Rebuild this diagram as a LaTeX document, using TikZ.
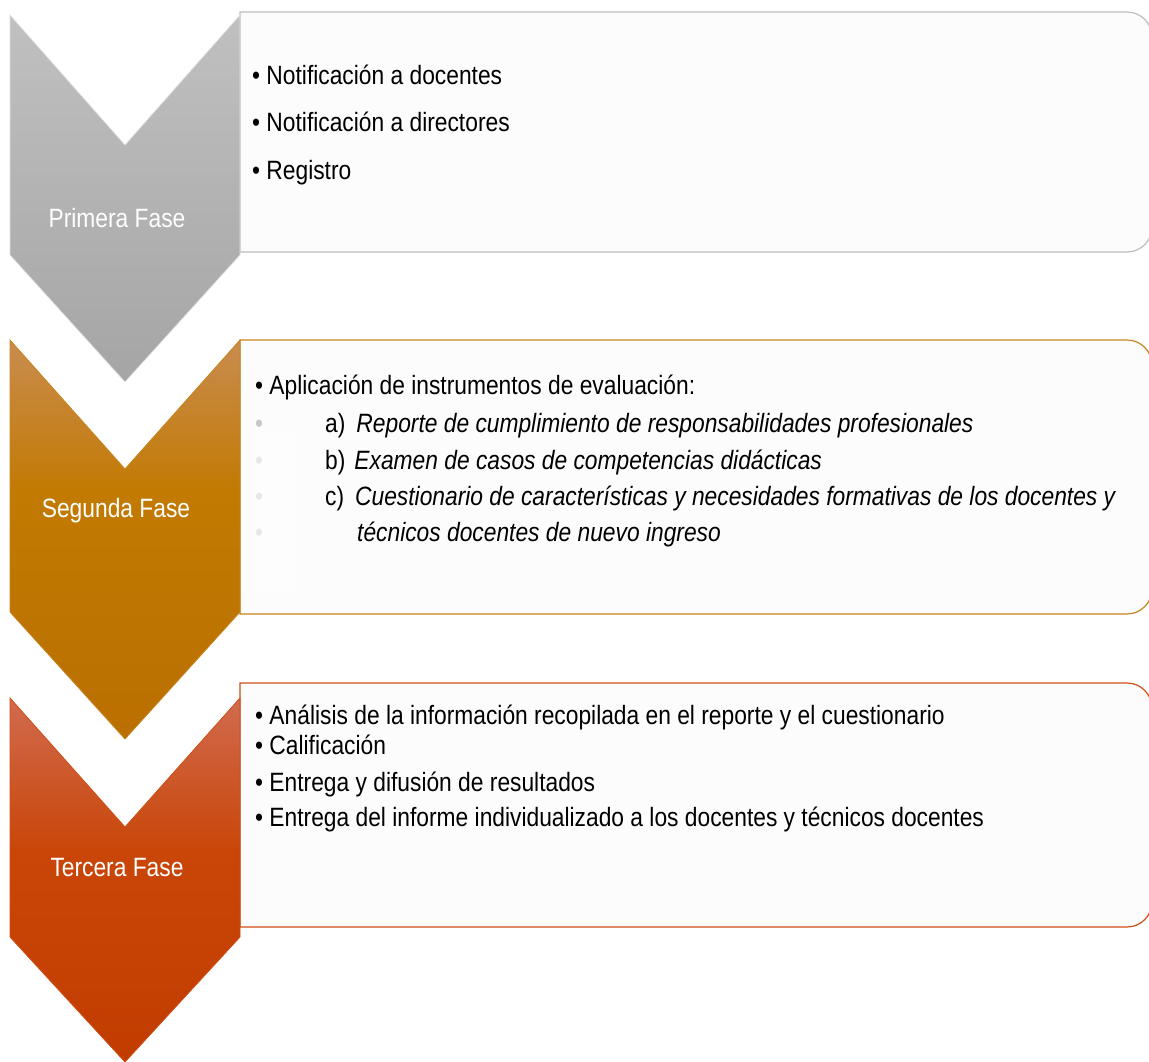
\documentclass[tikz,border=0pt]{standalone}
\usepackage{fontspec}
\setmainfont{Liberation Sans}[FakeStretch=0.86]
\usepackage{tikz}
\usetikzlibrary{positioning}

\definecolor{grisA}{HTML}{C0C0C0}
\definecolor{grisM}{HTML}{B2B2B2}
\definecolor{grisB}{HTML}{A5A5A5}
\definecolor{grisL}{HTML}{BDBDBD}
\definecolor{oroA}{HTML}{C98C50}
\definecolor{oroM}{HTML}{C27A02}
\definecolor{oroB}{HTML}{BA6F00}
\definecolor{oroL}{HTML}{C7841E}
\definecolor{rojoA}{HTML}{D16B4F}
\definecolor{rojoM}{HTML}{C94608}
\definecolor{rojoB}{HTML}{C23C00}
\definecolor{rojoL}{HTML}{CF4E14}
\definecolor{fondo}{HTML}{FCFCFC}

\pgfdeclareverticalshading{sombraoro}{100bp}{color(0bp)=(oroB); color(25bp)=(oroB); color(56bp)=(oroM); color(75bp)=(oroA); color(100bp)=(oroA)}
\pgfdeclareverticalshading{sombrarojo}{100bp}{color(0bp)=(rojoB); color(25bp)=(rojoB); color(54bp)=(rojoM); color(75bp)=(rojoA); color(100bp)=(rojoA)}

\tikzset{
  fasebox/.style={fill=fondo, line width=1.2pt},
  flecha/.style={line width=0.8pt},
  etiqueta/.style={anchor=base, inner sep=0pt, text=white, font=\fontsize{26.5}{30}\selectfont},
  item/.style={anchor=base west, inner sep=0pt, font=\fontsize{26.5}{30}\selectfont},
  tenue/.style={item, text=black!22},
}

\begin{document}
\begin{tikzpicture}
          [x=1pt, y=-1pt]
          \useasboundingbox (0,0) rectangle (1149,1061);

          % cajas
          \draw[fasebox, draw=grisL] (240,252) -- (240,12) -- (1127,12) arc[start angle=90, end angle=0, radius=25pt] -- (1152,227) arc[start angle=0, end angle=-90, radius=25pt] -- cycle;
          \draw[fasebox, draw=oroL] (240,614) -- (240,340) -- (1127,340) arc[start angle=90, end angle=0, radius=25pt] -- (1152,589) arc[start angle=0, end angle=-90, radius=25pt] -- cycle;
          \draw[fasebox, draw=rojoL] (240,927) -- (240,683) -- (1127,683) arc[start angle=90, end angle=0, radius=25pt] -- (1152,902) arc[start angle=0, end angle=-90, radius=25pt] -- cycle;

          % flechas
          \shade[flecha, draw=white!55!grisL, top color=grisA, middle color=grisM, bottom color=grisB] (10,15) -- (125,145) -- (240,15) -- (240,255) -- (125,382) -- (10,255) -- cycle;
          \shade[flecha, draw=oroL, shading=sombraoro] (10,340) -- (125,469) -- (240,340) -- (240,612) -- (125,739) -- (10,612) -- cycle;
          \shade[flecha, draw=rojoL, shading=sombrarojo] (10,698) -- (125,827) -- (240,698) -- (240,937) -- (125,1062) -- (10,937) -- cycle;

          \node[etiqueta] (f1) at (117,227) {Primera Fase};
          \node[etiqueta] (f2) at (116,517) {Segunda Fase};
          \node[etiqueta] (f3) at (117,876) {Tercera Fase};

          % primera fase
          \node[item] (p1) at (252,84) {• Notificación a docentes};
          \node[item] (p2) at (252,131) {• Notificación a directores};
          \node[item] (p3) at (252,179) {• Registro};

          % segunda fase
          \node[item] (s1) at (255,394) {• Aplicación de instrumentos de evaluación:};
          \node[tenue] (s2) at (255,432) {•};
          \node[tenue] (s3) at (255,469) {•};
          \node[tenue] (s4) at (255,505) {•};
          \node[tenue] (s5) at (255,541) {•};
          \fill[white, opacity=.6] (253,430) rectangle (295,593);
          \node[item] (sa) at (325,432) {a)\hspace{11pt}\textit{Reporte de cumplimiento de responsabilidades profesionales}};
          \node[item] (sb) at (325,469) {b)\hspace{9pt}\textit{Examen de casos de competencias didácticas}};
          \node[item] (sc) at (325,505) {c)\hspace{11pt}\textit{Cuestionario de características y necesidades formativas de los docentes y}};
          \node[item] (sd) at (357,541) {\textit{técnicos docentes de nuevo ingreso}};

          % tercera fase
          \node[item] (t1) at (255,724) {• Análisis de la información recopilada en el reporte y el cuestionario};
          \node[item] (t2) at (255,754) {• Calificación};
          \node[item] (t3) at (255,791) {• Entrega y difusión de resultados};
          \node[item] (t4) at (255,826) {• Entrega del informe individualizado a los docentes y técnicos docentes};

        \end{tikzpicture}
\end{document}
